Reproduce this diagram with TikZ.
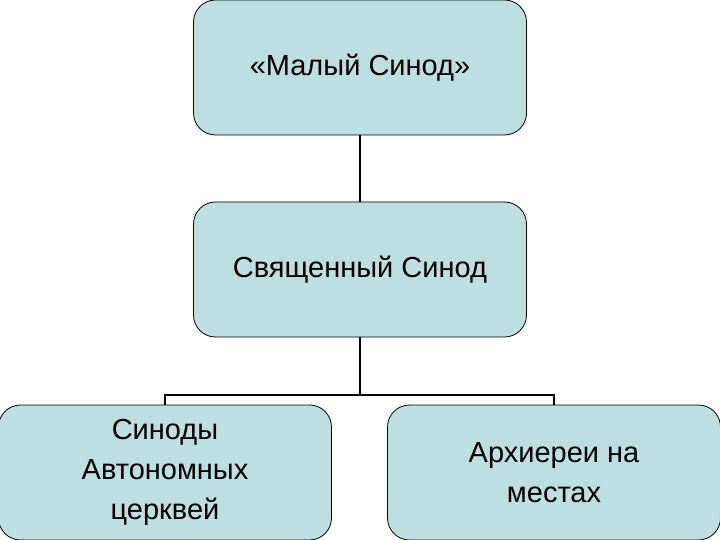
\documentclass[tikz,border=0pt]{standalone}
\usepackage{fontspec}
\setmainfont{Liberation Sans}
\definecolor{boxfill}{RGB}{189,223,226}
\begin{document}
\begin{tikzpicture}[x=1pt,y=-1pt,
  orgbox/.style={draw=black,line width=0.8pt,fill=boxfill,rounded corners=22pt,minimum width=333pt,minimum height=135pt,inner sep=0pt,align=center,font=\fontsize{29}{40}\selectfont},
  conn/.style={line width=2pt}]
\useasboundingbox (0,0) rectangle (720,540);
\node[orgbox] (top) at (360,67.5) {«Малый Синод»};
\node[orgbox] (mid) at (360,269.5) {Священный Синод};
\node[orgbox] (bl) at (165,472.5) {Синоды\\Автономных\\церквей};
\node[orgbox] (br) at (554,472.5) {Архиереи на\\местах};
\draw[conn] (top.south) -- (mid.north);
\coordinate (j) at (360,395);
\draw[conn] (mid.south) -- (j);
\draw[line width=2pt] (bl.north) -- (bl.north |- j) -- (br.north |- j) -- (br.north);
\end{tikzpicture}
\end{document}
